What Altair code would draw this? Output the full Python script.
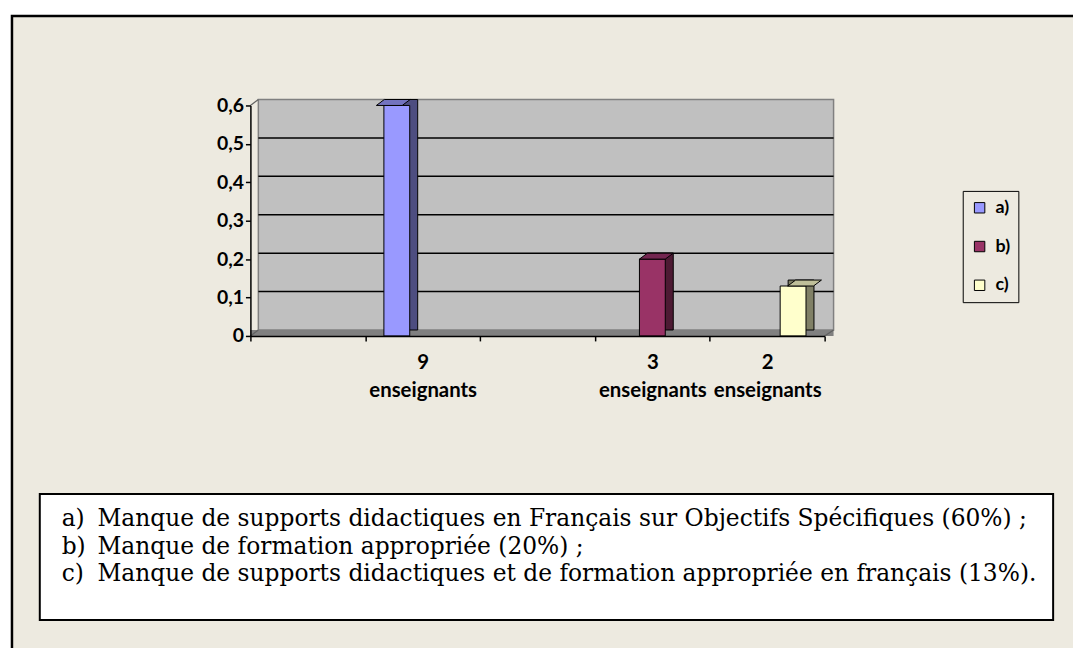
import altair as alt
import pandas as pd

# ---------------- data ----------------
category_slots = ["_vide1", "9 enseignants", "_vide2", "3 enseignants", "2 enseignants"]
series = ["a)", "b)", "c)"]
bar_category = ["9 enseignants", "3 enseignants", "2 enseignants"]
shares = [0.6, 0.2, 0.13]
y_ticks = [0, 0.1, 0.2, 0.3, 0.4, 0.5, 0.6]
grid_values = [0.1, 0.2, 0.3, 0.4, 0.5]
front_colors = ["#9999FF", "#993366", "#FFFFCC"]
top_colors = ["#7373BF", "#732650", "#BFBF99"]
side_colors = ["#4D4D80", "#4D1A33", "#808066"]
note_keys = ["a)", "b)", "c)"]
note_texts = [
    "Manque de supports didactiques en Français sur Objectifs Spécifiques (60%) ;",
    "Manque de formation appropriée (20%) ;",
    "Manque de supports didactiques et de formation appropriée en français (13%).",
]

BEIGE = "#EDEAE0"
W, H = 578, 232
AXIS_FONT = "Lato"
TXT_FONT = "DejaVu Serif"
TXT_SIZE = 23.5

bars_df = pd.DataFrame({"categorie": bar_category, "serie": series, "part": shares})
grid_df = pd.DataFrame({"part": grid_values})
one = pd.DataFrame({"k": [0]})

x_enc = alt.X(
    "categorie:N",
    scale=alt.Scale(domain=category_slots, paddingInner=0, paddingOuter=0),
    axis=alt.Axis(
        title=None, tickBand="extent",
        labelExpr="indexof(datum.label, '_') == 0 ? '' : split(datum.label, ' ')",
        labelAngle=0, labelFont=AXIS_FONT, labelFontSize=20.5, labelFontWeight="bold",
        labelColor="black", labelPadding=12, labelLineHeight=28, labelOverlap=False,
        labelLimit=0, domainColor="black", domainWidth=1.5, tickColor="black",
        tickWidth=1.5, tickSize=5, zindex=1, grid=False,
    ),
)
y_enc = alt.Y(
    "part:Q",
    scale=alt.Scale(domain=[0, 0.6], nice=False, zero=True),
    axis=alt.Axis(
        title=None, values=y_ticks,
        labelExpr="datum.value == 0 ? '0' : replace(format(datum.value, '.1f'), '.', ',')",
        labelFont=AXIS_FONT, labelFontSize=19.5, labelFontWeight="bold", labelColor="black",
        labelPadding=2, tickSize=5, tickColor="black", tickWidth=1.5,
        domainColor="black", domainWidth=1.5, grid=False, zindex=1,
    ),
)


def xoff(align):
    return alt.XOffset(
        "serie:N",
        scale=alt.Scale(domain=series, paddingInner=0, paddingOuter=0.72, align=align),
    )


def rect(x, x2, y, y2, **kw):
    return alt.Chart(one).mark_rect(**kw).encode(
        x=alt.value(x), x2=alt.value(x2), y=alt.value(y), y2=alt.value(y2)
    )


frame = rect(-240, 900, -90, 700, fill=BEIGE, stroke="black", strokeWidth=2.5)
wall = rect(8, 587, -6, 226, fill="#C0C0C0", stroke="#808080", strokeWidth=1.5)
floor = rect(0, 587, 226, 232, fill="#808080")
grid = alt.Chart(grid_df).mark_rule(color="black", strokeWidth=1.5, yOffset=-6).encode(
    y=y_enc, x=alt.value(8), x2=alt.value(587)
)
edges = alt.Chart(pd.DataFrame({"x": [0, 0, 578], "y": [0, 232, 232],
                                "x2": [8, 8, 587], "y2": [-6, 226, 226]})).mark_rule(
    color="#606060", strokeWidth=1.2
).encode(x=alt.X("x:Q", scale=None), y=alt.Y("y:Q", scale=None),
         x2="x2:Q", y2="y2:Q")

side = alt.Chart(bars_df).mark_bar(width=26, yOffset=-6, stroke="black", strokeWidth=1).encode(
    x=x_enc, xOffset=xoff(0.714), y=y_enc,
    fill=alt.Fill("serie:N", scale=alt.Scale(domain=series, range=side_colors), legend=None),
)
front = alt.Chart(bars_df).mark_bar(width=26, stroke="black", strokeWidth=1).encode(
    x=x_enc, xOffset=xoff(0.5), y=y_enc,
    fill=alt.Fill(
        "serie:N", scale=alt.Scale(domain=series, range=front_colors),
        legend=alt.Legend(
            title=None, orient="none", legendX=717, legendY=86, direction="vertical",
            strokeColor="black", fillColor=BEIGE, padding=8, symbolType="square",
            symbolSize=110, symbolStrokeColor="black", symbolStrokeWidth=1,
            labelFont=AXIS_FONT, labelFontWeight="bold", labelFontSize=18,
            labelColor="black", rowPadding=21, labelOffset=7,
        ),
    ),
)
top = alt.Chart(bars_df).mark_point(
    shape="M-1.3,0L-0.5,-0.6L2.1,-0.6L1.3,0Z", size=400, filled=True, opacity=1,
    stroke="black", strokeWidth=1,
).encode(
    x=x_enc, xOffset=xoff(0.5), y=y_enc,
    fill=alt.Fill("serie:N", scale=alt.Scale(domain=series, range=top_colors), legend=None),
)

box = rect(-212, 808, 391, 518, fill="white", stroke="black", strokeWidth=2)
keys = alt.Chart(one).mark_text(
    align="left", baseline="alphabetic", font=TXT_FONT, fontSize=TXT_SIZE,
    lineHeight=28, color="black",
).encode(x=alt.value(-190), y=alt.value(423), text=alt.value(note_keys))
texts = alt.Chart(one).mark_text(
    align="left", baseline="alphabetic", font=TXT_FONT, fontSize=TXT_SIZE,
    lineHeight=28, color="black",
).encode(x=alt.value(-154), y=alt.value(423), text=alt.value(note_texts))

chart = alt.layer(
    frame, wall, grid, floor, edges, side, front, top, box, keys, texts
).resolve_scale(
    fill="independent", xOffset="independent"
).properties(
    width=W, height=H,
    padding={"left": 244, "top": 96, "right": 250, "bottom": 312},
    autosize=alt.AutoSizeParams(type="none"),
    background="white",
).configure_view(stroke=None)

chart.save("out.html", embed_options={"renderer": "svg", "actions": False})
